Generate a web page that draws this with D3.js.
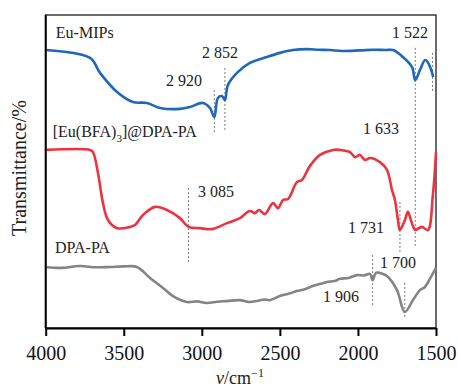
<!DOCTYPE html>
<html>
<head>
<meta charset="utf-8">
<script src="https://cdn.jsdelivr.net/npm/d3@7"></script>
<style>
  body { margin: 0; background: #fff; }
  svg { display: block; font-family: "Liberation Serif", "Times New Roman", serif; }
</style>
</head>
<body>
<div id="chart"></div>
<script>
var width = 458,
    height = 388;

// wavenumber (cm-1) and relative transmittance
var euMipsWn = [4000, 3716, 3652, 3543, 3441, 3351, 3268, 3140, 3076, 2993, 2948, 2920, 2897, 2871, 2852, 2833, 2775, 2692, 2583, 2499, 2416, 2327, 2250, 2179, 2100, 1987, 1900, 1820, 1776, 1712, 1654, 1633, 1603, 1569, 1543, 1518];
var euMipsT  = [88.8, 86.3, 81.5, 75.4, 72.2, 71.9, 70.3, 70.0, 70.6, 71.9, 70.3, 67.4, 73.5, 74.1, 72.8, 77.6, 81.5, 84.7, 86.6, 87.9, 88.8, 89.1, 88.9, 88.8, 88.5, 88.7, 88.9, 88.8, 88.8, 86.6, 83.4, 79.2, 82.4, 85.6, 84.0, 80.2];

var eubfaWn = [4000, 3716, 3697, 3665, 3633, 3601, 3543, 3460, 3428, 3377, 3300, 3223, 3140, 3085, 3012, 2935, 2839, 2756, 2692, 2660, 2634, 2596, 2544, 2512, 2480, 2448, 2391, 2359, 2307, 2243, 2160, 2115, 2051, 2019, 1987, 1955, 1923, 1859, 1814, 1782, 1763, 1744, 1731, 1699, 1680, 1661, 1642, 1633, 1590, 1552, 1520, 1500];
var eubfaT  = [56.9, 56.9, 56.2, 49.5, 39.9, 34.5, 31.9, 32.3, 32.9, 36.1, 38.7, 37.7, 35.1, 32.3, 31.9, 31.6, 33.5, 35.1, 37.4, 36.7, 37.7, 36.4, 39.9, 38.3, 40.9, 41.2, 46.6, 47.3, 51.8, 55.3, 56.9, 56.9, 56.2, 54.6, 55.3, 53.7, 54.3, 53.0, 50.5, 44.1, 40.9, 34.5, 31.3, 34.5, 37.1, 34.5, 31.9, 31.3, 32.3, 31.3, 42.5, 56.2];

var dpaWn = [4000, 3900, 3781, 3680, 3588, 3500, 3415, 3332, 3249, 3185, 3095, 3030, 2967, 2900, 2839, 2756, 2700, 2647, 2600, 2564, 2500, 2440, 2391, 2340, 2289, 2240, 2199, 2150, 2115, 2060, 2006, 1960, 1923, 1906, 1885, 1859, 1814, 1750, 1700, 1648, 1603, 1571, 1526, 1500];
var dpaT  = [19.5, 19.2, 19.8, 19.4, 19.5, 19.7, 19.5, 16.0, 12.8, 10.2, 8.3, 8.5, 8.0, 8.4, 8.6, 8.9, 8.3, 8.6, 9.1, 8.9, 10.2, 11.0, 11.8, 12.4, 13.4, 14.1, 14.7, 15.0, 15.7, 16.0, 16.9, 16.8, 17.3, 15.3, 17.6, 17.6, 16.6, 12.1, 5.1, 8.9, 12.1, 13.1, 16.9, 19.2];

var seriesNames = ["Eu-MIPs", "[Eu(BFA)3]@DPA-PA", "DPA-PA"];
var seriesColors = ["#1f68b9", "#ec3440", "#848484"];

var xTicks = [4000, 3500, 3000, 2500, 2000, 1500];

// marked peaks: wavenumber, label, dotted guide from/to (transmittance), label anchor
var peakWn    = [2920, 2852, 1633, 1522, 3085, 1731, 1906, 1700];
var peakLabel = ["2 920", "2 852", "1 633", "1 522", "3 085", "1 731", "1 906", "1 700"];
var guideTop  = [76.0, 83.1, 89.5, 87.9, 44.7, 40.3, 23.3, 14.4];
var guideBot  = [62.3, 63.3, 25.9, 75.1, 21.1, 24.0, 6.7, 3.2];
var labelWn   = [2999, 2999, 1968, 1782, 3024, 2064, 2224, 1859];
var labelT    = [77.3, 86.3, 62.0, 92.7, 41.9, 30.4, 8.3, 19.2];

var margin = {left: 45.7, right: 22, top: 15, bottom: 60};

var svg = d3.select("#chart")
    .append("svg")
    .attr("width", width)
    .attr("height", height);

var x = d3.scaleLinear()
    .domain([4000, 1500])
    .range([margin.left, width - margin.right]);

var y = d3.scaleLinear()
    .domain([0, 100])
    .range([height - margin.bottom, margin.top]);

// frame: top and right edges thin
svg.append("rect")
    .attr("x", x(4000))
    .attr("y", y(100))
    .attr("width", x(1500) - x(4000))
    .attr("height", y(0) - y(100))
    .attr("fill", "none")
    .attr("stroke", "#3a3a3a")
    .attr("stroke-width", 1.5);

// dotted guides
svg.append("g")
    .selectAll("line")
    .data(peakWn)
    .enter().append("line")
    .attr("x1", function (d) { return x(d); })
    .attr("x2", function (d) { return x(d); })
    .attr("y1", function (d, i) { return y(guideTop[i]); })
    .attr("y2", function (d, i) { return y(guideBot[i]); })
    .attr("stroke", "#777")
    .attr("stroke-width", 1)
    .attr("stroke-dasharray", "2,2");

var line = d3.line()
    .x(function (d) { return x(d[0]); })
    .y(function (d) { return y(d[1]); })
    .curve(d3.curveCatmullRom.alpha(0.5));

var series = [
    d3.zip(euMipsWn, euMipsT),
    d3.zip(eubfaWn, eubfaT),
    d3.zip(dpaWn, dpaT)
];

svg.append("g")
    .selectAll("path")
    .data(series)
    .enter().append("path")
    .attr("d", line)
    .attr("fill", "none")
    .attr("stroke", function (d, i) { return seriesColors[i]; })
    .attr("stroke-width", 2.6)
    .attr("stroke-linejoin", "round");

// axes
var xAxis = d3.axisBottom(x)
    .tickValues(xTicks)
    .tickFormat(d3.format("d"))
    .tickSize(8)
    .tickSizeOuter(0);

var gx = svg.append("g")
    .attr("transform", "translate(0," + y(0) + ")")
    .call(xAxis);
gx.select(".domain").attr("stroke", "#000").attr("stroke-width", 2);
gx.selectAll(".tick line").attr("stroke", "#000").attr("stroke-width", 2);
gx.selectAll(".tick text")
    .attr("y", 32)
    .attr("dy", null)
    .attr("fill", "#111")
    .style("font-family", "Liberation Serif")
    .style("font-size", "20px");

svg.append("line")
    .attr("x1", x(4000)).attr("x2", x(4000))
    .attr("y1", y(100)).attr("y2", y(0))
    .attr("stroke", "#000")
    .attr("stroke-width", 2);

// series labels
var nameY = [92.7, 61.0, 24.0];
var nameWn = [3935, 3955, 3940];
svg.append("g")
    .selectAll("text")
    .data(seriesNames)
    .enter().append("text")
    .attr("x", function (d, i) { return x(nameWn[i]); })
    .attr("y", function (d, i) { return y(nameY[i]); })
    .attr("fill", "#222")
    .style("font-size", "16px")
    .each(function (d) {
        var t = d3.select(this);
        var m = d.match(/^(.*\()(.*\))(\d)(\].*)$/);
        if (m) {
            t.append("tspan").text(m[1] + m[2]);
            t.append("tspan").attr("dy", 5).style("font-size", "11px").text(m[3]);
            t.append("tspan").attr("dy", -5).text(m[4]);
        } else {
            t.text(d);
        }
    });

// peak labels
svg.append("g")
    .selectAll("text")
    .data(peakLabel)
    .enter().append("text")
    .attr("x", function (d, i) { return x(labelWn[i]); })
    .attr("y", function (d, i) { return y(labelT[i]); })
    .attr("text-anchor", function (d, i) { return i === 0 ? "end" : "start"; })
    .attr("fill", "#222")
    .style("font-size", "16px")
    .text(function (d) { return d; });

// axis titles
svg.append("text")
    .attr("transform", "translate(26,168) rotate(-90)")
    .attr("text-anchor", "middle")
    .attr("fill", "#222")
    .style("font-size", "20px")
    .text("Transmittance/%");

var xt = svg.append("text")
    .attr("x", 240)
    .attr("y", 384)
    .attr("text-anchor", "middle")
    .attr("fill", "#222")
    .style("font-size", "18px");
xt.append("tspan").style("font-style", "italic").text("ν");
xt.append("tspan").text("/cm");
xt.append("tspan").attr("dy", -7).style("font-size", "12px").text("−1");
</script>
</body>
</html>
